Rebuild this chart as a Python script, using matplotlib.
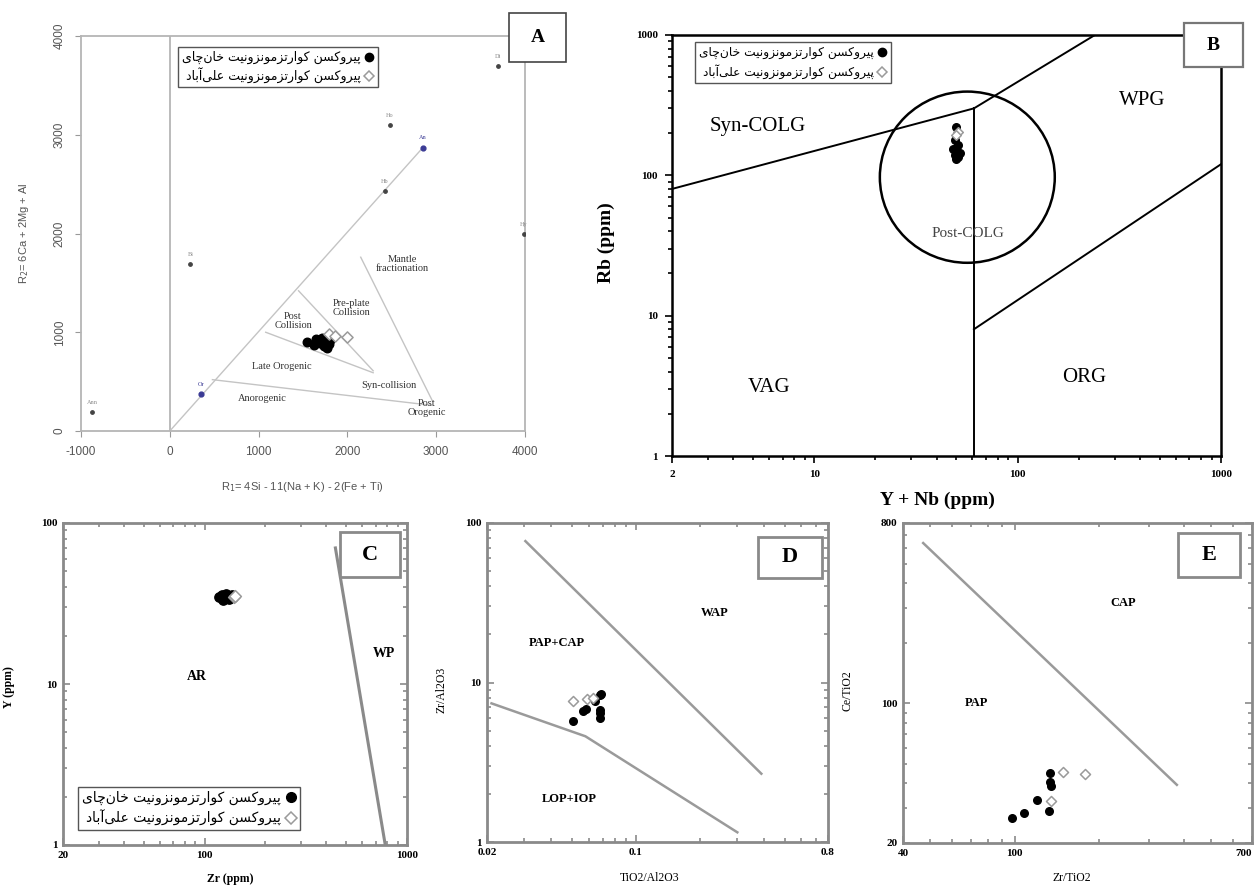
# -*- coding: utf-8 -*-
# tectonic discrimination diagrams (A-E) for the pyroxene quartz monzonites
# A: R1-R2 (Batchelor & Bowden), B: Rb - (Y+Nb), C: Y - Zr, D/E: Zr, Ce, TiO2 ratios
import numpy as np
import matplotlib
matplotlib.use("Agg")
import matplotlib.pyplot as plt
from matplotlib.lines import Line2D
from matplotlib.patches import Rectangle, Ellipse
from matplotlib.ticker import LogLocator, NullFormatter

plt.rcParams['font.family'] = 'Liberation Serif'
plt.rcParams['axes.unicode_minus'] = False

W, H = 1255, 886

# ==== DATA ====
name_kh = 'پیروکسن کوارتزمونزونیت خان\u200cچای'
name_al = 'پیروکسن کوارتزمونزونیت علی\u200cآباد'

# A : R1 - R2
A_kh_r1 = [1540, 1620, 1650, 1690, 1710, 1740, 1760, 1775, 1790, 1800]
A_kh_r2 = [905, 875, 930, 895, 940, 860, 905, 840, 880, 920]
A_al_r1 = [1790, 1860, 1990]
A_al_r2 = [985, 965, 950]
A_ref_r1 = [-876, 233, 353, 2422, 2478, 2853, 3700, 3984]
A_ref_r2 = [190, 1691, 373, 2428, 3100, 2869, 3694, 1992]
A_ref_name = ['Ann', 'Bi', 'Or', 'Hb', 'Ho', 'An', 'Di', 'Hy']
A_ref_blue = [False, False, True, False, False, True, False, False]
A_lines = [([0, 2850], [0, 2870]),
           ([480, 2950], [520, 260]),
           ([2150, 2960], [1760, 300]),
           ([1450, 2290], [1420, 610]),
           ([1080, 2290], [1000, 590])]
A_fields = [('Mantle\nfractionation', 2616, 1691), ('Pre-plate\nCollision', 2047, 1250),
            ('Post\nCollision', 1388, 1114), ('Late Orogenic', 1259, 655),
            ('Syn-collision', 2466, 458), ('Post\nOrogenic', 2897, 230),
            ('Anorogenic', 1043, 333)]

# B : Rb vs Y+Nb
B_kh_ynb = [50, 49, 51, 48, 50, 52, 49, 51, 50]
B_kh_rb = [222, 178, 165, 155, 150, 145, 140, 135, 130]
B_al_ynb = [51, 50]
B_al_rb = [205, 195]
B_lines = [([2, 61], [80, 300]),
           ([61, 240], [300, 1000]),
           ([61, 61], [1, 300]),
           ([61, 1000], [8, 120])]
B_postcolg_center = (56.6, 97.0)   # Y+Nb, Rb
B_postcolg_radius = (0.43, 0.61)   # decades
B_fields = [('Syn-COLG', 5.3, 222, 15), ('WPG', 409, 344, 15), ('VAG', 6.0, 3.1, 15),
            ('ORG', 212, 3.6, 15)]

# C : Y vs Zr
C_kh_zr = [118, 122, 126, 130, 134, 138, 124, 128, 132, 136]
C_kh_y = [34.5, 35.5, 34.0, 35.0, 34.2, 34.8, 33.2, 36.0, 33.5, 35.8]
C_al_zr = [140, 142]
C_al_y = [34.6, 35.2]
C_line = ([443, 781], [70, 1])

# D : Zr/Al2O3 vs TiO2/Al2O3
D_kh_x = [0.0506, 0.0568, 0.0585, 0.0645, 0.068, 0.0687, 0.068, 0.068, 0.068]
D_kh_y = [5.74, 6.64, 6.84, 7.67, 8.3, 8.5, 6.7, 6.4, 5.98]
D_al_x = [0.0506, 0.0589, 0.0631]
D_al_y = [7.67, 7.85, 8.0]
D_lines = [([0.0303, 0.389], [77, 2.68]),
           ([0.021, 0.058, 0.30], [7.4, 4.6, 1.15])]

# E : Ce/TiO2 vs Zr/TiO2
E_kh_x = [98, 108, 120.5, 132.7, 134, 133, 135]
E_kh_y = [26.7, 28.4, 32.9, 29, 45, 40.6, 38.4]
E_al_x = [149, 178, 135]
E_al_y = [45.6, 44.4, 32.3]
E_line = ([47.2, 378], [635, 39.1])

# ==== persian shaping (matplotlib has no arabic shaping) ====
FA_FORMS = {  # isolated, final, initial, medial
    'ا': ('\uFE8D', '\uFE8E', None, None),
    'آ': ('\uFE81', '\uFE82', None, None),
    'ب': ('\uFE8F', '\uFE90', '\uFE91', '\uFE92'),
    'پ': ('\uFB56', '\uFB57', '\uFB58', '\uFB59'),
    'ت': ('\uFE95', '\uFE96', '\uFE97', '\uFE98'),
    'ج': ('\uFE9D', '\uFE9E', '\uFE9F', '\uFEA0'),
    'چ': ('\uFB7A', '\uFB7B', '\uFB7C', '\uFB7D'),
    'خ': ('\uFEA5', '\uFEA6', '\uFEA7', '\uFEA8'),
    'د': ('\uFEA9', '\uFEAA', None, None),
    'ر': ('\uFEAD', '\uFEAE', None, None),
    'ز': ('\uFEAF', '\uFEB0', None, None),
    'س': ('\uFEB1', '\uFEB2', '\uFEB3', '\uFEB4'),
    'ع': ('\uFEC9', '\uFECA', '\uFECB', '\uFECC'),
    'ک': ('\uFB8E', '\uFB8F', '\uFB90', '\uFB91'),
    'ل': ('\uFEDD', '\uFEDE', '\uFEDF', '\uFEE0'),
    'م': ('\uFEE1', '\uFEE2', '\uFEE3', '\uFEE4'),
    'ن': ('\uFEE5', '\uFEE6', '\uFEE7', '\uFEE8'),
    'و': ('\uFEED', '\uFEEE', None, None),
    'ی': ('\uFBFC', '\uFBFD', '\uFBFE', '\uFBFF'),
}


def fa(text):
    text = text.replace('\u064A', '\u06CC').replace('\u0643', '\u06A9')
    out = []
    for i, ch in enumerate(text):
        if ch not in FA_FORMS:
            if ch != '\u200c':
                out.append(ch)
            continue
        iso, fin, ini, med = FA_FORMS[ch]
        prev = text[i - 1] if i > 0 else ''
        nxt = text[i + 1] if i < len(text) - 1 else ''
        join_prev = prev in FA_FORMS and FA_FORMS[prev][2] is not None
        join_next = ini is not None and nxt in FA_FORMS
        if join_prev and join_next:
            out.append(med)
        elif join_prev:
            out.append(fin)
        elif join_next:
            out.append(ini)
        else:
            out.append(iso)
    return ''.join(out)[::-1]


def px_rect(l, t, r, b):
    return [l / W, 1 - b / H, (r - l) / W, (b - t) / H]


def letter_box(l, t, r, b, letter, ec='#777777', lw=1.6, size=15):
    fig.add_artist(Rectangle((l / W, 1 - b / H), (r - l) / W, (b - t) / H,
                             transform=fig.transFigure, facecolor='white',
                             edgecolor=ec, lw=lw, zorder=10))
    fig.text((l + r) / 2 / W, 1 - (t + b) / 2 / H, letter, ha='center', va='center',
             fontsize=size, fontweight='bold', zorder=11)


def fa_legend(ax, x, y, size, ms=5, spacing=0.3):
    h1 = Line2D([], [], ls='none', marker='o', color='black', ms=ms)
    h2 = Line2D([], [], ls='none', marker='D', mfc='white', mec='#9a9a9a', mew=1.1, ms=ms - 1)
    leg = ax.legend([h1, h2], [fa(name_kh), fa(name_al)], loc='upper left',
                    bbox_to_anchor=(x, y), markerfirst=False, frameon=True, fancybox=False,
                    edgecolor='#555555', framealpha=1, borderpad=0.3, handletextpad=0.3,
                    handlelength=0.8, labelspacing=spacing, borderaxespad=0,
                    prop={'family': 'DejaVu Sans', 'size': size})
    leg.get_frame().set_linewidth(1.0)
    leg.set_zorder(20)


def log_panel(ax, xlim, ylim, xt, yt, col='#8a8a8a'):
    ax.set_xscale('log')
    ax.set_yscale('log')
    ax.set_xlim(xlim)
    ax.set_ylim(ylim)
    ax.set_xticks(xt, labels=[str(v) for v in xt], fontweight='bold', fontsize=8)
    ax.set_yticks(yt, labels=[str(v) for v in yt], fontweight='bold', fontsize=8)
    ax.xaxis.set_minor_locator(LogLocator(subs=np.arange(2, 10)))
    ax.yaxis.set_minor_locator(LogLocator(subs=np.arange(2, 10)))
    ax.xaxis.set_minor_formatter(NullFormatter())
    ax.yaxis.set_minor_formatter(NullFormatter())
    for s in ax.spines.values():
        s.set_color(col)
        s.set_linewidth(2.0)
    ax.tick_params(which='both', direction='in', top=True, right=True, color=col, width=1.2, pad=4)
    ax.tick_params(which='major', length=5)
    ax.tick_params(which='minor', length=3)


def pts(ax, x1, y1, x2, y2, s1=30, s2=26):
    ax.scatter(x1, y1, s=s1, c='black', zorder=5)
    ax.scatter(x2, y2, s=s2, marker='D', facecolors='white', edgecolors='#9a9a9a', linewidths=1.1, zorder=6)


fig = plt.figure(figsize=(W / 100, H / 100), dpi=100)

# ---- A ----
axA = fig.add_axes(px_rect(81, 36, 525, 431))
axA.set_xlim(-1000, 4000)
axA.set_ylim(0, 4000)
for s in axA.spines.values():
    s.set_color('#b5b5b5')
    s.set_linewidth(1.3)
axA.axvline(0, color='#b5b5b5', lw=1.3, zorder=1)
for xs, ys in A_lines:
    axA.plot(xs, ys, color='#c4c4c4', lw=1.0, zorder=2)
for x, y, t, blue in zip(A_ref_r1, A_ref_r2, A_ref_name, A_ref_blue):
    axA.scatter([x], [y], s=12 if blue else 6, c='#3b3b95' if blue else '#444444', zorder=4)
    axA.annotate(t, (x, y), xytext=(0, 6), textcoords='offset points', ha='center',
                 fontsize=4.5, color='#3b3b95' if blue else '#888888')
pts(axA, A_kh_r1, A_kh_r2, A_al_r1, A_al_r2, s1=38, s2=32)
for t, x, y in A_fields:
    axA.text(x, y, t, ha='center', va='center', fontsize=7.5, color='#333333', linespacing=1.0)
axA.set_xticks(np.arange(-1000, 4001, 1000))
axA.set_yticks(np.arange(0, 4001, 1000))
axA.tick_params(colors='#999999', labelcolor='#555555', labelsize=8.5, length=4, pad=7)
axA.tick_params(axis='y', labelrotation=90)
for lbl in axA.get_yticklabels():
    lbl.set_va('center')
for lbl in axA.get_xticklabels() + axA.get_yticklabels():
    lbl.set_fontfamily('Liberation Sans')
axA.set_xlabel('R$_1$= 4Si - 11(Na + K) - 2(Fe + Ti)', fontsize=8, color='#555555', family='Liberation Sans')
axA.set_ylabel('R$_2$= 6Ca + 2Mg + Al', fontsize=8, color='#555555', family='Liberation Sans')
axA.xaxis.set_label_coords(0.498, -0.125)
axA.yaxis.set_label_coords(-0.113, 0.5)
fa_legend(axA, 0.2185, 0.971, 9, ms=6, spacing=0.25)

# ---- B ----
axB = fig.add_axes(px_rect(672, 35, 1221, 456))
axB.set_xscale('log')
axB.set_yscale('log')
axB.set_xlim(2, 1000)
axB.set_ylim(1, 1000)
for xs, ys in B_lines:
    axB.plot(xs, ys, color='black', lw=1.4)
cx = np.log10(B_postcolg_center[0] / 2) / np.log10(1000 / 2)
cy = np.log10(B_postcolg_center[1]) / 3
axB.add_patch(Ellipse((cx, cy), 2 * B_postcolg_radius[0] / np.log10(500), 2 * B_postcolg_radius[1] / 3,
                      transform=axB.transAxes, fill=False, ec='black', lw=1.8))
pts(axB, B_kh_ynb, B_kh_rb, B_al_ynb, B_al_rb, s1=30, s2=24)
for t, x, y, fs in B_fields:
    axB.text(x, y, t, ha='center', va='center', fontsize=fs)
axB.text(57, 38.6, 'Post-COLG', ha='center', va='center', fontsize=11, color='#444444')
axB.set_xticks([2, 10, 100, 1000], labels=['2', '10', '100', '1000'], fontweight='bold', fontsize=8)
axB.set_yticks([1, 10, 100, 1000], labels=['1', '10', '100', '1000'], fontweight='bold', fontsize=8)
axB.xaxis.set_minor_formatter(NullFormatter())
axB.yaxis.set_minor_formatter(NullFormatter())
for s in axB.spines.values():
    s.set_linewidth(1.8)
axB.tick_params(which='both', direction='out', width=1.2, pad=5)
axB.tick_params(which='major', length=5)
axB.tick_params(which='minor', length=3)
axB.set_xlabel('Y + Nb (ppm)', fontsize=14, fontweight='bold')
axB.set_ylabel('Rb (ppm)', fontsize=14, fontweight='bold')
axB.xaxis.set_label_coords(0.483, -0.0855)
axB.yaxis.set_label_coords(-0.104, 0.508)
fa_legend(axB, 0.042, 0.983, 8.8, ms=6, spacing=0.45)

# ---- C ----
axC = fig.add_axes(px_rect(63, 523, 407, 845))
log_panel(axC, (20, 1000), (1, 100), [20, 100, 1000], [1, 10, 100])
axC.plot(*C_line, color='#8a8a8a', lw=2.2)
pts(axC, C_kh_zr, C_kh_y, C_al_zr, C_al_y, s1=45, s2=36)
axC.text(91.5, 11.1, 'AR', ha='center', va='center', fontsize=10, fontweight='bold')
axC.text(767, 15.5, 'WP', ha='center', va='center', fontsize=10, fontweight='bold')
axC.set_xlabel('Zr (ppm)', fontsize=8.5, fontweight='bold')
axC.set_ylabel('Y (ppm)', fontsize=8.5, fontweight='bold')
axC.xaxis.set_label_coords(0.485, -0.088)
axC.yaxis.set_label_coords(-0.14, 0.49)
fa_legend(axC, 0.0436, 0.18, 10, ms=7, spacing=0.3)

# ---- D ----
axD = fig.add_axes(px_rect(487, 523, 828, 842))
log_panel(axD, (0.02, 0.8), (1, 100), [0.02, 0.1, 0.8], [1, 10, 100])
for xs, ys in D_lines:
    axD.plot(xs, ys, color='#9a9a9a', lw=1.8)
pts(axD, D_kh_x, D_kh_y, D_al_x, D_al_y)
axD.text(0.235, 27.4, 'WAP', ha='center', va='center', fontsize=9, fontweight='bold')
axD.text(0.0426, 17.7, 'PAP+CAP', ha='center', va='center', fontsize=9, fontweight='bold')
axD.text(0.0488, 1.86, 'LOP+IOP', ha='center', va='center', fontsize=9, fontweight='bold')
axD.set_xlabel('TiO2/Al2O3', fontsize=8.5)
axD.set_ylabel('Zr/Al2O3', fontsize=8.5)
axD.xaxis.set_label_coords(0.478, -0.095)
axD.yaxis.set_label_coords(-0.117, 0.476)

# ---- E ----
axE = fig.add_axes(px_rect(903, 523, 1252, 843))
log_panel(axE, (40, 700), (20, 800), [40, 100, 700], [20, 100, 800])
# last label sits at the figure edge, keep it inside
axE.get_xticklabels()[-1].set_ha('right')
axE.plot(*E_line, color='#9a9a9a', lw=1.8)
pts(axE, E_kh_x, E_kh_y, E_al_x, E_al_y)
axE.text(243, 318, 'CAP', ha='center', va='center', fontsize=9, fontweight='bold')
axE.text(73, 101, 'PAP', ha='center', va='center', fontsize=9, fontweight='bold')
axE.set_xlabel('Zr/TiO2', fontsize=8.5)
axE.set_ylabel('Ce/TiO2', fontsize=8.5)
axE.xaxis.set_label_coords(0.484, -0.092)
axE.yaxis.set_label_coords(-0.143, 0.475)

# panel letters
letter_box(509, 13, 566, 62, 'A', ec='#444444', lw=1.2, size=14)
letter_box(1184, 23, 1243, 67, 'B', ec='#777777', lw=1.6, size=14)
letter_box(340, 532, 400, 577, 'C', ec='#8a8a8a', lw=2.0, size=16)
letter_box(758, 537, 822, 578, 'D', ec='#8a8a8a', lw=2.0, size=16)
letter_box(1178, 533, 1240, 577, 'E', ec='#8a8a8a', lw=2.0, size=16)

fig.savefig('out.png', dpi=100)
